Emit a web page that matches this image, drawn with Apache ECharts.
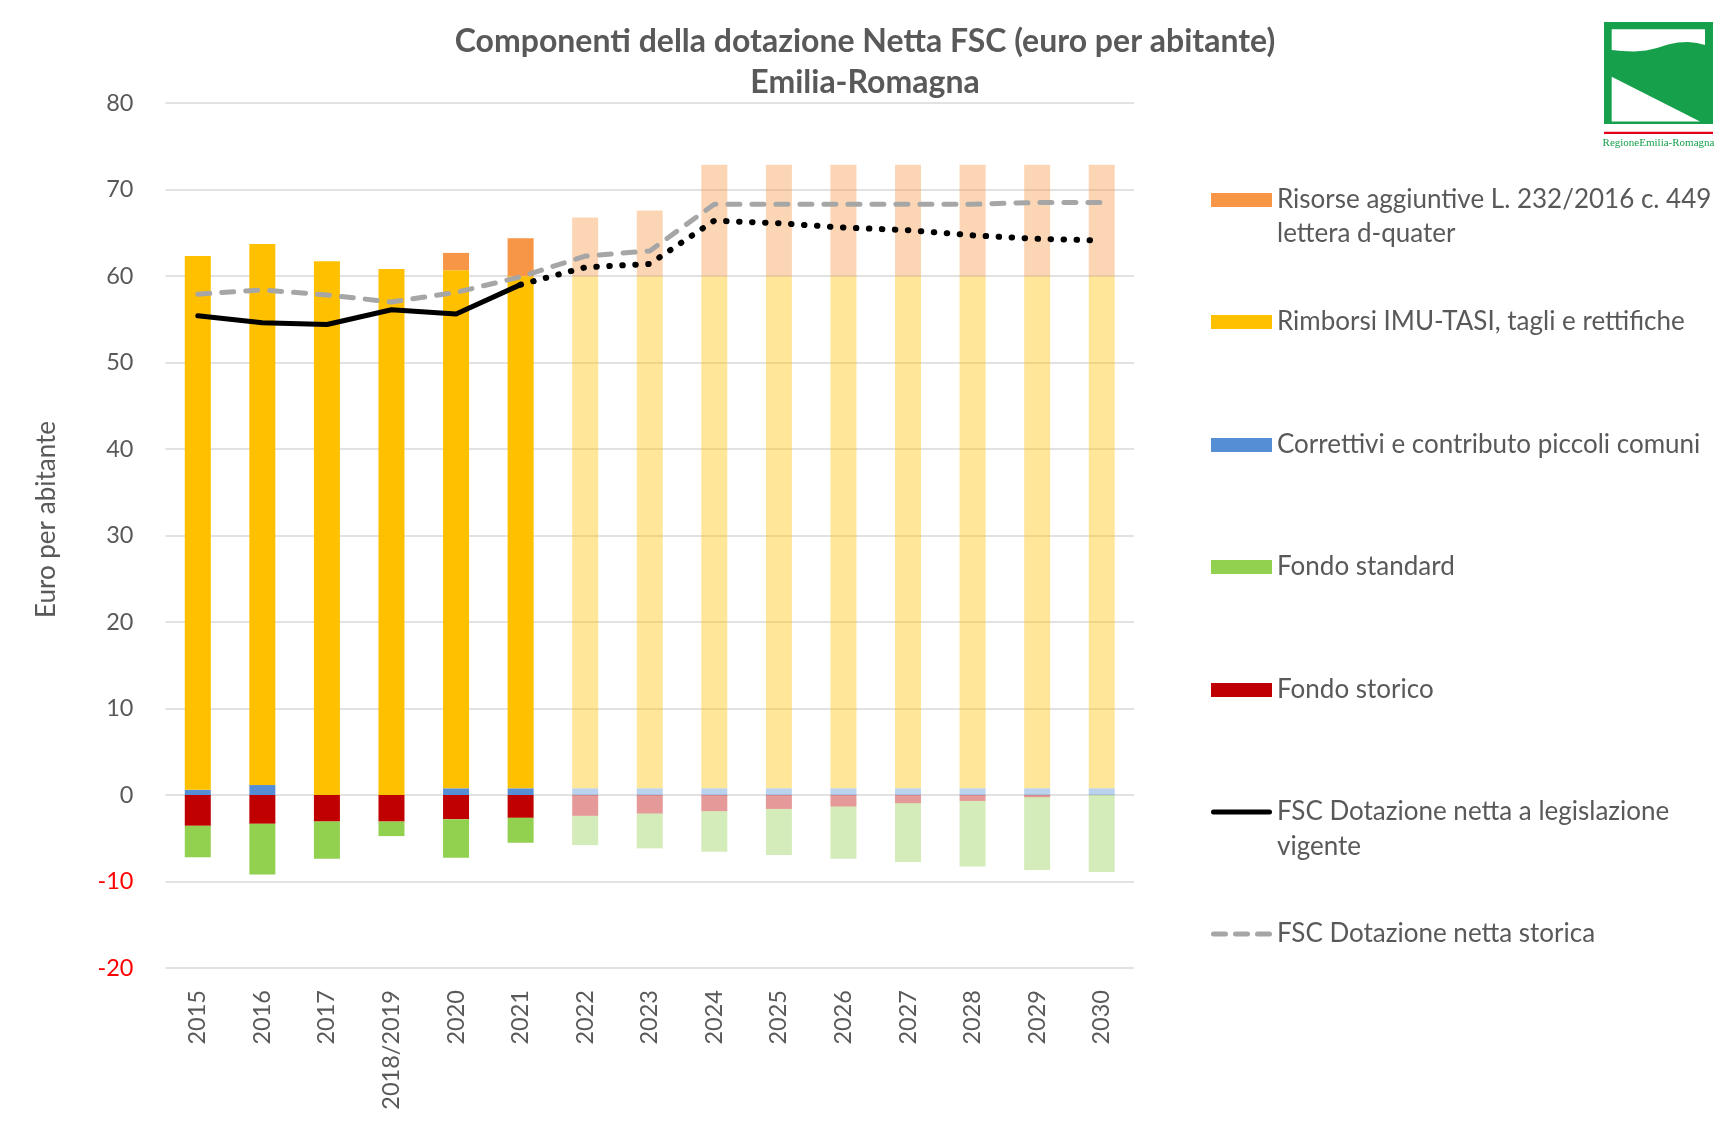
<!DOCTYPE html>
<html>
<head>
<meta charset="UTF-8">
<title>Componenti della dotazione Netta FSC</title>
<script src="https://cdn.jsdelivr.net/npm/echarts@6/dist/echarts.min.js"></script>
<style>
  * { margin: 0; padding: 0; }
  body { background: #fff; }
  #chart { width: 1730px; height: 1131px; }
</style>
</head>
<body>
<div id="chart"></div>
<script>
// categorie (anni)
var anni = ['2015', '2016', '2017', '2018/2019', '2020', '2021', '2022', '2023', '2024',
  '2025', '2026', '2027', '2028', '2029', '2030'];
// dal 2022 in poi le barre sono stime (colori tenui)
var primoAnnoStimato = 6;

var correttivi = [0.6, 1.15, 0, 0, 0.77, 0.77, 0.77, 0.77, 0.77, 0.77, 0.77, 0.77, 0.77, 0.77, 0.77];
var rimborsi = [61.7, 62.55, 61.7, 60.8, 59.9, 59.2, 59.2, 59.2, 59.2, 59.2, 59.2, 59.2, 59.2, 59.2, 59.2];
var risorse = [0, 0, 0, 0, 2.0, 4.4, 6.8, 7.6, 12.9, 12.9, 12.9, 12.9, 12.9, 12.9, 12.9];
var fondoStorico = [-3.56, -3.33, -3.07, -3.07, -2.8, -2.64, -2.41, -2.15, -1.88, -1.61, -1.34, -0.96, -0.69, -0.27, 0];
var fondoStandard = [-3.64, -5.87, -4.29, -1.68, -4.44, -2.88, -3.38, -4.02, -4.67, -5.32, -6.02, -6.78, -7.59, -8.39, -8.89];
var dotVigente = [55.4, 54.6, 54.4, 56.1, 55.6, 59.0, 61.0, 61.4, 66.4, 66.1, 65.6, 65.3, 64.7, 64.3, 64.1];
var dotStorica = [57.9, 58.4, 57.8, 57.0, 58.1, 59.9, 62.3, 62.9, 68.3, 68.3, 68.3, 68.3, 68.3, 68.5, 68.5];

var yTicks = { min: -20, max: 80, step: 10 };

var nomi = {
  risorse: 'Risorse aggiuntive L. 232/2016 c. 449 lettera d-quater',
  rimborsi: 'Rimborsi IMU-TASI, tagli e rettifiche',
  correttivi: 'Correttivi e contributo piccoli comuni',
  standard: 'Fondo standard',
  storico: 'Fondo storico',
  vigente: 'FSC Dotazione netta a legislazione vigente',
  storica: 'FSC Dotazione netta storica'
};

var grigio = '#595959';
var font = 'Lato';
var legendFont = 26;

function barData(arr) {
  return arr.map(function (v, i) {
    return i >= primoAnnoStimato ? { value: v, itemStyle: { opacity: 0.4 } } : v;
  });
}

function barSeries(name, arr, color) {
  return {
    name: name,
    type: 'bar',
    stack: 'fsc',
    barWidth: 26,
    itemStyle: { color: color },
    data: barData(arr)
  };
}

// linea continua fino al 2021, poi punteggiata
var vigenteReale = dotVigente.map(function (v, i) { return i < primoAnnoStimato ? v : '-'; });
var vigenteStima = dotVigente.map(function (v, i) { return i >= primoAnnoStimato - 1 ? v : '-'; });

var legendTop = [200, 322, 445, 567, 690, 812, 934];
var legendNames = [nomi.risorse, nomi.rimborsi, nomi.correttivi, nomi.standard, nomi.storico, nomi.vigente, nomi.storica];
var iconaLinea = 'path://M2.5,0h56a2.5,2.5 0 0 1 0,5h-56a2.5,2.5 0 0 1 0,-5z';
var iconaTratteggio = 'path://M2.5,0h12a2.5,2.5 0 0 1 0,5h-12a2.5,2.5 0 0 1 0,-5z' +
  'M24.5,0h12a2.5,2.5 0 0 1 0,5h-12a2.5,2.5 0 0 1 0,-5z' +
  'M46.5,0h12a2.5,2.5 0 0 1 0,5h-12a2.5,2.5 0 0 1 0,-5z';

var legends = legendNames.map(function (n, i) {
  var l = {
    data: [n],
    left: 1211,
    top: legendTop[i] - 15,
    padding: 0,
    itemWidth: 61,
    itemHeight: i < 5 ? 14 : 5,
    icon: i < 5 ? 'rect' : (i === 5 ? iconaLinea : iconaTratteggio),
    selectedMode: false,
    formatter: function (name) {
      if (name === nomi.risorse) return 'Risorse aggiuntive L. 232/2016 c. 449';
      if (name === nomi.vigente) return 'FSC Dotazione netta a legislazione';
      return name;
    },
    textStyle: { fontFamily: font, fontSize: legendFont, color: grigio, lineHeight: 30 }
  };
  return l;
});

var chart = echarts.init(document.getElementById('chart'));

var option = {
  animation: false,
  backgroundColor: '#fff',
  textStyle: { fontFamily: font },
  title: {
    text: 'Componenti della dotazione Netta FSC (euro per abitante)\nEmilia-Romagna',
    left: 'center',
    top: 21,
    padding: 0,
    textStyle: { fontFamily: font, fontWeight: 'bold', fontSize: 32, color: grigio, lineHeight: 41 }
  },
  legend: legends,
  grid: { left: 165.5, right: 596, top: 103, bottom: 163 },
  xAxis: {
    type: 'category',
    data: anni,
    axisLine: { show: false },
    axisTick: { show: false },
    axisLabel: { rotate: 90, margin: 22, fontSize: 23.5, color: grigio, fontFamily: font }
  },
  yAxis: {
    type: 'value',
    min: yTicks.min,
    max: yTicks.max,
    interval: yTicks.step,
    name: 'Euro per abitante',
    nameLocation: 'middle',
    nameGap: 106,
    nameTextStyle: { fontSize: 26, color: grigio, fontFamily: font, padding: [0, 0, 0, 32] },
    axisLine: { show: false },
    axisTick: { show: false },
    splitLine: { lineStyle: { color: '#D9D9D9', width: 1.5 } },
    axisLabel: {
      margin: 32,
      fontSize: 23.5,
      fontFamily: font,
      color: function (v) { return Number(v) < 0 ? '#FF0000' : grigio; }
    }
  },
  graphic: [
    { type: 'text', x: 1277, y: 234, style: { text: 'lettera d-quater', font: legendFont + 'px Lato', fill: grigio, verticalAlign: 'middle' } },
    { type: 'text', x: 1277, y: 847, style: { text: 'vigente', font: legendFont + 'px Lato', fill: grigio, verticalAlign: 'middle' } },
    // logo Regione Emilia-Romagna
    { type: 'rect', shape: { x: 1604, y: 22, width: 109, height: 102 }, style: { fill: '#16A04B' } },
    { type: 'polygon', shape: { points: [[1611.7, 29.3], [1705, 29.3], [1705, 45], [1697, 43], [1688, 42], [1678, 42.5], [1668, 44.5], [1657, 48], [1646, 50.5], [1634, 51.5], [1622, 51], [1611.7, 50]] }, style: { fill: '#fff' } },
    { type: 'polygon', shape: { points: [[1611.7, 76.7], [1611.7, 121.5], [1700, 121.5]] }, style: { fill: '#fff' } },
    { type: 'rect', shape: { x: 1604, y: 131.8, width: 109, height: 2.2 }, style: { fill: '#E2001A' } },
    { type: 'text', x: 1658.5, y: 143, style: { text: 'RegioneEmilia-Romagna', font: '11px "Liberation Serif"', fill: '#16A04B', align: 'center', verticalAlign: 'middle' } }
  ],
  series: [
    barSeries(nomi.correttivi, correttivi, '#558ED5'),
    barSeries(nomi.storico, fondoStorico, '#C00000'),
    barSeries(nomi.rimborsi, rimborsi, '#FFC000'),
    barSeries(nomi.standard, fondoStandard, '#92D050'),
    barSeries(nomi.risorse, risorse, '#F79646'),
    {
      name: nomi.vigente,
      type: 'line',
      symbol: 'none',
      data: vigenteReale,
      itemStyle: { color: '#000' },
      lineStyle: { color: '#000', width: 5, cap: 'round', join: 'round' }
    },
    {
      name: 'stima vigente',
      type: 'line',
      symbol: 'none',
      data: vigenteStima,
      itemStyle: { color: '#000' },
      lineStyle: { color: '#000', width: 6, type: [0.5, 12.5], cap: 'round' }
    },
    {
      name: nomi.storica,
      type: 'line',
      symbol: 'none',
      data: dotStorica,
      itemStyle: { color: '#A6A6A6' },
      lineStyle: { color: '#A6A6A6', width: 5, type: [12, 12], cap: 'round', join: 'round' }
    }
  ]
};

chart.setOption(option);
</script>
</body>
</html>
